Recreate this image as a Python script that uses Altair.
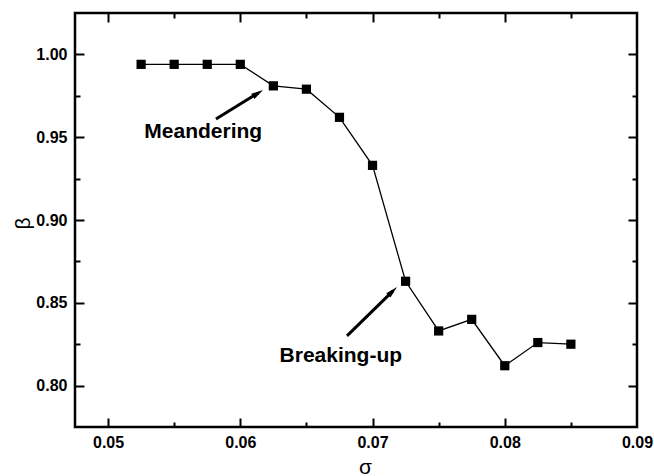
import altair as alt
import pandas as pd

# ---- data ----
sigma = [0.0525, 0.055, 0.0575, 0.06, 0.0625, 0.065, 0.0675,
         0.07, 0.0725, 0.075, 0.0775, 0.08, 0.0825, 0.085]
beta = [0.994, 0.994, 0.994, 0.994, 0.981, 0.979, 0.962,
        0.933, 0.863, 0.833, 0.840, 0.812, 0.826, 0.825]

x_domain = [0.0475, 0.09]
y_domain = [0.775, 1.025]
x_label_values = [0.05, 0.06, 0.07, 0.08, 0.09]
x_tick_values = [0.05, 0.055, 0.06, 0.065, 0.07, 0.075, 0.08, 0.085]
y_label_values = [0.80, 0.85, 0.90, 0.95, 1.00]
y_tick_values = [0.80, 0.825, 0.85, 0.875, 0.90, 0.925, 0.95, 0.975, 1.00]

ann_text = ["Meandering", "Breaking-up"]
ann_text_x = [0.0572, 0.0676]
ann_text_y = [0.9495, 0.8143]
arrow_x0 = [0.05816, 0.06807]
arrow_y0 = [0.961, 0.830]
arrow_x1 = [0.06133, 0.07153]
arrow_y1 = [0.97657, 0.85701]
arrow_tip_x = [0.06172, 0.07185]
arrow_tip_y = [0.9785, 0.8595]
arrow_angle = [58, 46]

# ---- tables ----
df = pd.DataFrame({"sigma": sigma, "beta": beta})
ann = pd.DataFrame({"text": ann_text, "x": ann_text_x, "y": ann_text_y})
arr = pd.DataFrame({"x0": arrow_x0, "y0": arrow_y0, "x1": arrow_x1, "y1": arrow_y1,
                    "tx": arrow_tip_x, "ty": arrow_tip_y, "angle": arrow_angle})

W, H = 562, 414
FONT = "Liberation Sans"

xs = alt.Scale(domain=x_domain, nice=False, zero=False)
ys = alt.Scale(domain=y_domain, nice=False, zero=False)

x_major_test = "abs(datum.value*100 - round(datum.value*100)) < 0.001"
y_major_test = "abs(datum.value*20 - round(datum.value*20)) < 0.001"


def tick_axis(orient, values, offset, test):
    return alt.Axis(orient=orient, values=values, offset=offset, labels=False,
                    domain=False, grid=False, title=None, ticks=True,
                    tickColor="black", tickWidth=2,
                    tickSize={"condition": {"test": test, "value": 9}, "value": 5})


x_label_axis = alt.Axis(orient="bottom", values=x_label_values, format=".2f",
                        ticks=False, tickSize=0, domain=False, grid=False,
                        labelFont=FONT, labelFontSize=16, labelFontWeight="bold",
                        labelColor="black", labelPadding=7, labelFlush=False,
                        labelOverlap=False,
                        title="σ", titleFont=FONT, titleFontSize=21,
                        titleFontWeight="normal", titleColor="black",
                        titleX=290, titleY=40, titleAlign="center",
                        titleBaseline="middle")
y_label_axis = alt.Axis(orient="left", values=y_label_values, format=".2f",
                        ticks=False, tickSize=0, domain=False, grid=False,
                        labelFont=FONT, labelFontSize=16, labelFontWeight="bold",
                        labelColor="black", labelPadding=8, labelFlush=False,
                        labelOverlap=False,
                        title="β", titleFont=FONT, titleFontSize=21,
                        titleFontWeight="normal", titleColor="black",
                        titleX=-52, titleY=210, titleAlign="center",
                        titleBaseline="middle", titleAngle=270)

line = alt.Chart(df).mark_line(color="black", strokeWidth=1.3).encode(
    x=alt.X("sigma:Q", scale=xs, axis=x_label_axis),
    y=alt.Y("beta:Q", scale=ys, axis=y_label_axis),
)

points = alt.Chart(df).mark_point(shape="square", filled=True, color="black",
                                  opacity=1, size=85).encode(
    x=alt.X("sigma:Q", scale=xs, axis=tick_axis("top", x_tick_values, -H, x_major_test)),
    y=alt.Y("beta:Q", scale=ys, axis=tick_axis("right", y_tick_values, -W, y_major_test)),
)

ghost = alt.Chart(df).mark_point(opacity=0, size=1).encode(
    x=alt.X("sigma:Q", scale=xs, axis=tick_axis("bottom", x_tick_values, -H, x_major_test)),
    y=alt.Y("beta:Q", scale=ys, axis=tick_axis("left", y_tick_values, -W, y_major_test)),
)

texts = alt.Chart(ann).mark_text(font=FONT, fontSize=21, fontWeight="bold",
                                 color="black", align="center",
                                 baseline="alphabetic").encode(
    x=alt.X("x:Q", scale=xs, axis=None),
    y=alt.Y("y:Q", scale=ys, axis=None),
    text="text:N",
)

shafts = alt.Chart(arr).mark_rule(color="black", strokeWidth=3).encode(
    x=alt.X("x0:Q", scale=xs, axis=None),
    y=alt.Y("y0:Q", scale=ys, axis=None),
    x2="x1:Q",
    y2="y1:Q",
)

heads = alt.Chart(arr).mark_point(shape="M0,0L0.5,2L-0.5,2Z", filled=True,
                                  color="black", opacity=1, size=144).encode(
    x=alt.X("tx:Q", scale=xs, axis=None),
    y=alt.Y("ty:Q", scale=ys, axis=None),
    angle=alt.Angle("angle:Q", scale=None),
)

chart = alt.layer(line, points, ghost, shafts, heads, texts).resolve_axis(
    x="independent", y="independent"
).properties(
    width=W, height=H,
    autosize=alt.AutoSizeParams(type="none"),
    padding={"left": 75, "top": 13, "right": 17, "bottom": 49},
    background="white",
).configure_view(stroke="black", strokeWidth=2.5)

chart.save("out.html", embed_options={"renderer": "svg", "actions": False})
